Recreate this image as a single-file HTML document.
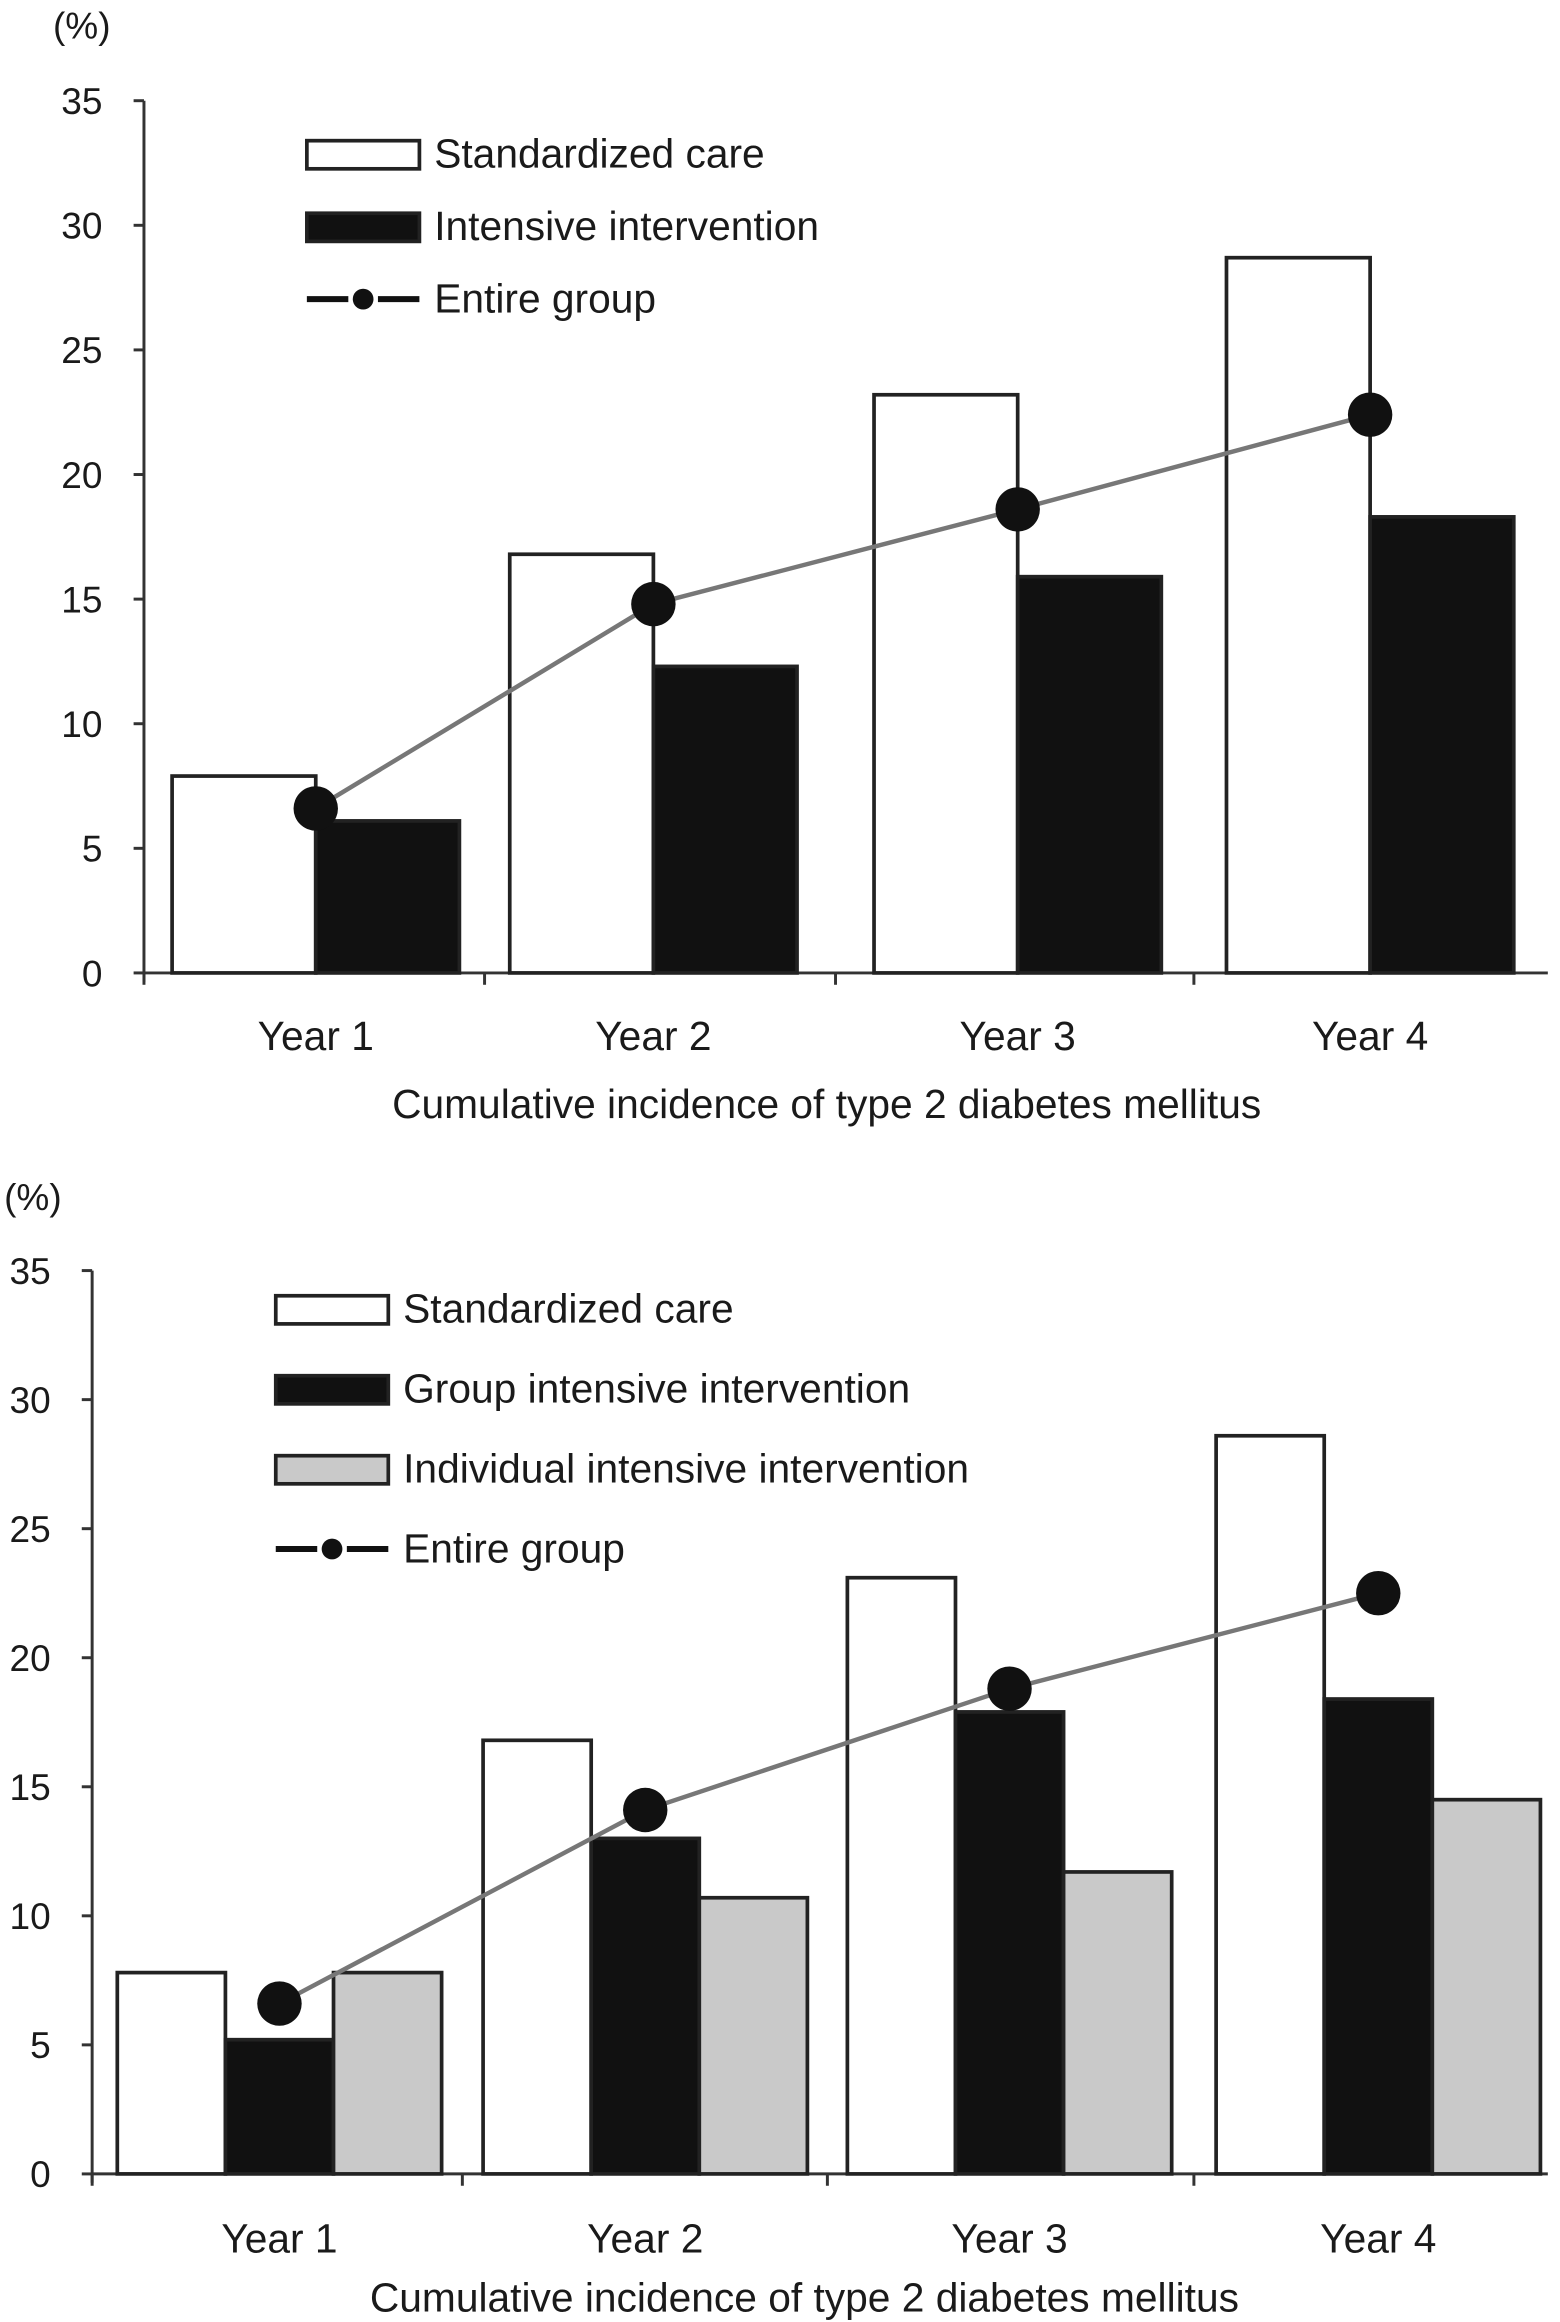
<!DOCTYPE html>
<html><head><meta charset="utf-8"><style>
html,body{margin:0;padding:0;background:#fff}
svg{display:block}
text{font-family:"Liberation Sans",Arial,sans-serif;fill:#1a1a1a}
</style></head><body>
<svg id="svg" width="1560" height="2322" viewBox="0 0 1053 1568" xmlns="http://www.w3.org/2000/svg"></svg>
<script>
const categories = ["Year 1","Year 2","Year 3","Year 4"];
const yTicks = [0,5,10,15,20,25,30,35];
// Chart A
const aStandard = [7.9,16.8,23.2,28.7];
const aIntensive = [6.1,12.3,15.9,18.3];
const aEntire = [6.6,14.8,18.6,22.4];
// Chart B
const bStandard = [7.8,16.8,23.1,28.6];
const bGroup = [5.2,13.0,17.9,18.4];
const bIndividual = [7.8,10.7,11.7,14.5];
const bEntire = [6.6,14.1,18.8,22.5];

const NS="http://www.w3.org/2000/svg";
const svg=document.getElementById('svg');
function mk(tag,attrs,parent,txt){const e=document.createElementNS(NS,tag);for(const k in attrs)e.setAttribute(k,attrs[k]);if(txt!==undefined)e.textContent=txt;(parent||svg).appendChild(e);return e;}

function drawChart(cfg){
  const g=mk('g',{});
  
  
  const y=v=>cfg.y0-(v/35)*(cfg.y0-cfg.y35);
  const gx=i=>cfg.starts[i];
  const ax=mk('line',{x1:cfg.ax,y1:cfg.y35,x2:cfg.ax,y2:cfg.y0+6,stroke:'#333','stroke-width':2},g);
  
  
  yTicks.forEach(t=>{
    mk('line',{x1:cfg.ax-7,y1:y(t),x2:cfg.ax,y2:y(t),stroke:'#333','stroke-width':2},g);
    const tl=mk('text',{x:cfg.ax-28,y:y(t)+9,'text-anchor':'end','font-size':25},g,String(t));
    
    
  });
  const u=mk('text',{x:cfg.unitX,y:cfg.unitY,'text-anchor':'middle','font-size':25},g,'(%)');
  
  
  const xa=mk('line',{x1:cfg.ax,y1:cfg.y0,x2:1045,y2:cfg.y0,stroke:'#333','stroke-width':2},g);
  
  
  for(let i=0;i<categories.length;i++){
    const tx=i===0?cfg.ax:(gx(i-1)+cfg.bw*cfg.series.length+gx(i))/2;
    mk('line',{x1:tx,y1:cfg.y0,x2:tx,y2:cfg.y0+8,stroke:'#333','stroke-width':2},g);
  }
  cfg.series.forEach((s,si)=>{
    s.data.forEach((v,i)=>{
      const x=gx(i)+si*cfg.bw;
      const r=mk('rect',{x:x,y:y(v),width:cfg.bw,height:cfg.y0-y(v),fill:s.fill,stroke:'#222','stroke-width':2.5},g);
      
      
    });
  });
  const pts=cfg.line.map((v,i)=>[gx(i)+cfg.bw*cfg.lineOff,y(v)]);
  const pl=mk('polyline',{points:pts.map(p=>p.join(',')).join(' '),fill:'none',stroke:'#777','stroke-width':3},g);
  
  
  pts.forEach((p,i)=>{
    const c=mk('circle',{cx:p[0],cy:p[1],r:15,fill:'#111'},g);
    
    
  });
  categories.forEach((c,i)=>{
    const t=mk('text',{x:gx(i)+cfg.bw*cfg.series.length/2,y:cfg.labY,'text-anchor':'middle','font-size':27.5},g,c);
    
    
  });
  const ti=mk('text',{x:cfg.titleX,y:cfg.titleY,'text-anchor':'middle','font-size':27.5},g,'Cumulative incidence of type 2 diabetes mellitus');
  
  
  cfg.legend.forEach(l=>{
    const lg=mk('g',{},g);
    
    
    if(l.type==='box'){
      mk('rect',{x:cfg.legX,y:l.y-9,width:76,height:19,fill:l.fill,stroke:'#222','stroke-width':2.5},lg);
    }else{
      mk('line',{x1:cfg.legX,y1:l.y,x2:cfg.legX+28,y2:l.y,stroke:'#111','stroke-width':4},lg);
      mk('line',{x1:cfg.legX+48,y1:l.y,x2:cfg.legX+76,y2:l.y,stroke:'#111','stroke-width':4},lg);
      mk('circle',{cx:cfg.legX+38,cy:l.y,r:7,fill:'#111'},lg);
    }
    mk('text',{x:cfg.legX+86,y:l.y+9,'font-size':27.5},lg,l.label);
  });
}

drawChart({name:'chart-standard-vs-intensive',ax:97,y0:657,y35:68,starts:[116,344,590,828],bw:97,
  series:[{key:'standardized-care',data:aStandard,fill:'#fff'},{key:'intensive-intervention',data:aIntensive,fill:'#111'}],
  line:aEntire,lineOff:1,labY:709,titleX:558,titleY:755,unitX:55,unitY:26,legX:207,
  legend:[{type:'box',fill:'#fff',y:104,label:'Standardized care'},{type:'box',fill:'#111',y:153,label:'Intensive intervention'},{type:'line',y:202,label:'Entire group'}]});

drawChart({name:'chart-group-vs-individual',ax:62,y0:1468,y35:858,starts:[79,326,572,821],bw:73,
  series:[{key:'standardized-care',data:bStandard,fill:'#fff'},{key:'group-intensive',data:bGroup,fill:'#111'},{key:'individual-intensive',data:bIndividual,fill:'#c9c9c9'}],
  line:bEntire,lineOff:1.5,labY:1521,titleX:543,titleY:1561,unitX:22,unitY:817,legX:186,
  legend:[{type:'box',fill:'#fff',y:884,label:'Standardized care'},{type:'box',fill:'#111',y:938,label:'Group intensive intervention'},{type:'box',fill:'#c9c9c9',y:992,label:'Individual intensive intervention'},{type:'line',y:1046,label:'Entire group'}]});
</script>
</body></html>
